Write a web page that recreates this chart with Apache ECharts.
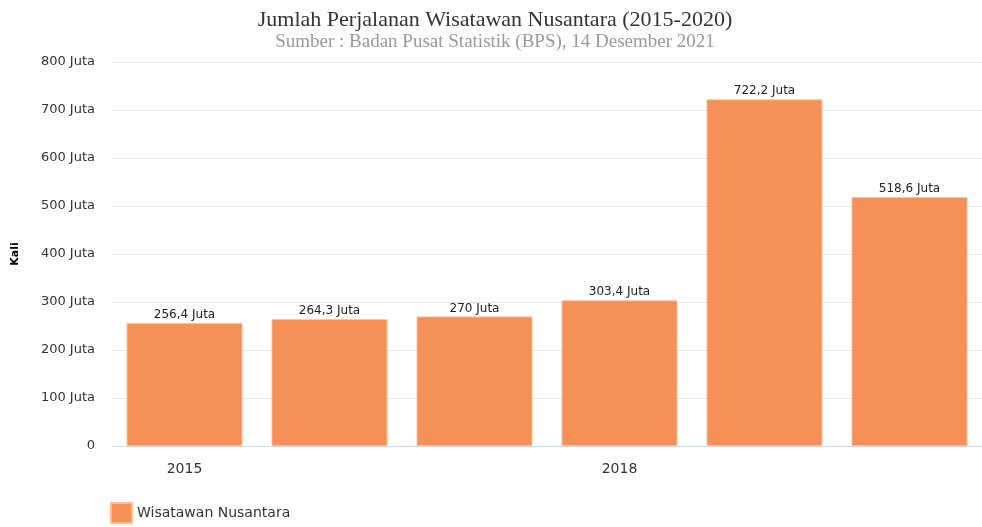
<!DOCTYPE html>
<html>
<head>
<meta charset="utf-8">
<script src="https://cdn.jsdelivr.net/npm/echarts@6/dist/echarts.min.js"></script>
<style>
	html, body { margin: 0; padding: 0; background: #fff; }
	#chart { width: 982px; height: 527px; }
</style>
</head>
<body>
<div id="chart"></div>
<script>
var years = ['2015', '2016', '2017', '2018', '2019', '2020'];
var wisnus = [256.4, 264.3, 270, 303.4, 722.2, 518.6];
var yTicks = [0, 100, 200, 300, 400, 500, 600, 700, 800];

function juta(v) {
	return v === 0 ? '0' : String(v).replace('.', ',') + ' Juta';
}

var myChart = echarts.init(document.getElementById('chart'));

var option = {
	animation: false,
	title: {
		text: 'Jumlah Perjalanan Wisatawan Nusantara (2015-2020)',
		subtext: 'Sumber : Badan Pusat Statistik (BPS), 14 Desember 2021',
		left: 490,
		textAlign: 'center',
		top: 4,
		itemGap: 2,
		textStyle: {
			fontFamily: 'Liberation Serif',
			fontSize: 22,
			fontWeight: 'normal',
			color: '#333'
		},
		subtextStyle: {
			fontFamily: 'Liberation Serif',
			fontSize: 19,
			color: '#999'
		}
	},
	legend: {
		left: 110,
		bottom: 3,
		padding: 0,
		itemWidth: 21,
		itemHeight: 20,
		itemGap: 10,
		icon: 'rect',
		data: ['Wisatawan Nusantara'],
		textStyle: {
			fontFamily: 'DejaVu Sans',
			fontSize: 14,
			color: '#333'
		}
	},
	grid: {
		left: 112,
		right: -2,
		top: 62,
		bottom: 81,
		containLabel: false
	},
	xAxis: {
		type: 'category',
		data: years,
		axisTick: { show: false },
		axisLine: { lineStyle: { color: '#ccd6eb' } },
		axisLabel: {
			interval: 2,
			margin: 16,
			fontFamily: 'DejaVu Sans',
			fontSize: 14,
			color: '#333'
		}
	},
	yAxis: {
		type: 'value',
		min: yTicks[0],
		max: yTicks[yTicks.length - 1],
		interval: 100,
		name: 'Kali',
		nameLocation: 'middle',
		nameGap: 91,
		nameTextStyle: {
			fontFamily: 'DejaVu Sans',
			fontSize: 11,
			fontWeight: 'bold',
			color: '#000'
		},
		axisLabel: {
			margin: 17,
			fontFamily: 'DejaVu Sans',
			fontSize: 13,
			color: '#333',
			formatter: juta
		},
		splitLine: { lineStyle: { color: '#e6e6e6' } }
	},
	series: [{
		name: 'Wisatawan Nusantara',
		type: 'bar',
		data: wisnus,
		barCategoryGap: '20%',
		itemStyle: {
			color: 'rgba(243,124,58,0.85)',
			borderColor: 'rgba(250,190,150,0.9)',
			borderWidth: 1
		},
		label: {
			show: true,
			position: 'top',
			distance: 2,
			fontFamily: 'DejaVu Sans',
			fontSize: 12,
			color: '#222',
			formatter: function (p) { return juta(p.value); }
		}
	}]
};

myChart.setOption(option);
</script>
</body>
</html>
